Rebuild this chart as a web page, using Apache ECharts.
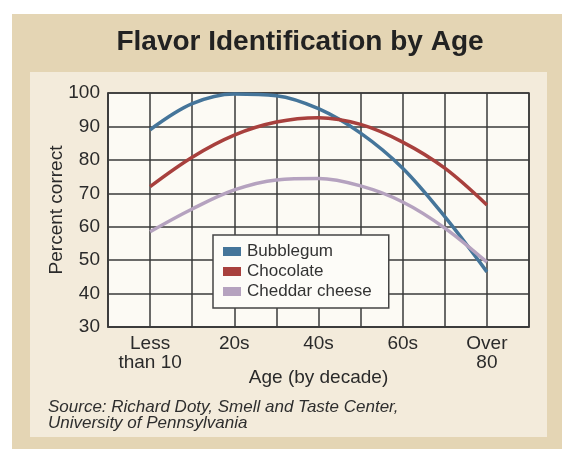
<!DOCTYPE html>
<html>
<head>
<meta charset="utf-8">
<script src="https://cdn.jsdelivr.net/npm/echarts@6/dist/echarts.min.js"></script>
<style>
html,body{margin:0;padding:0;background:#ffffff;}
#chart{width:562px;height:449px;}
</style>
</head>
<body>
<div id="chart"></div>
<script>
// Age decades (x positions 1..9 on the axis)
const ageGroups = ['Less than 10', '10s', '20s', '30s', '40s', '50s', '60s', '70s', 'Over 80'];
// Tick labels for axis positions 0..10
const xTickLabels = ['', 'Less\nthan 10', '', '20s', '', '40s', '', '60s', '', 'Over\n80', ''];
const bubblegum = [89, 96.8, 99.7, 99.2, 95.3, 88, 77.5, 63, 46.5];
const chocolate = [72, 80.8, 87.4, 91.3, 92.6, 90.6, 85.3, 77.5, 66.5];
const cheddar = [58.5, 65.3, 71, 74, 74.4, 72.2, 67.4, 59.6, 49.4];
const seriesNames = ['Bubblegum', 'Chocolate', 'Cheddar cheese'];

const toPairs = arr => arr.map((v, i) => [i + 1, v]);

const chart = echarts.init(document.getElementById('chart'), null, {renderer: 'canvas'});
const textColor = '#2a2a2a';
const gridColor = '#3a3a3a';
const font = 'Liberation Sans, Arial, Helvetica, sans-serif';

const mkSeries = (name, data, color) => ({
  name: name,
  type: 'line',
  data: toPairs(data),
  smooth: 0.35,
  symbol: 'none',
  lineStyle: {color: color, width: 3.5},
  itemStyle: {color: color},
  z: 3
});

chart.setOption({
  animation: false,
  textStyle: {fontFamily: font},
  graphic: [
    {type: 'rect', z: -10, shape: {x: 12, y: 14, width: 550, height: 435}, style: {fill: '#e4d5b4'}},
    {type: 'rect', z: -9, shape: {x: 30, y: 72, width: 517, height: 365}, style: {fill: '#f3ebdb'}},
    {type: 'text', z: 10, x: 300, y: 42, style: {
      text: 'Flavor Identification by Age', fill: '#222', font: 'bold 28px ' + font,
      textAlign: 'center', textVerticalAlign: 'middle'}},
    {type: 'text', z: 10, x: 48, y: 399, style: {
      text: 'Source: Richard Doty, Smell and Taste Center,\nUniversity of Pennsylvania',
      fill: '#2e2e2e', font: 'italic 17px ' + font, lineHeight: 16,
      textAlign: 'left', textVerticalAlign: 'top'}}
  ],
  grid: {
    left: 108, right: 33, top: 93, bottom: 122,
    show: true, backgroundColor: '#fcfaf4', borderColor: gridColor, borderWidth: 1.5
  },
  legend: {
    orient: 'vertical',
    left: 213, top: 235,
    data: seriesNames,
    icon: 'rect',
    itemWidth: 18, itemHeight: 9, itemGap: 3,
    padding: [8, 17, 8, 10],
    backgroundColor: '#fdfcf8',
    borderColor: '#444', borderWidth: 1.5,
    textStyle: {color: '#333', fontSize: 17, lineHeight: 17, fontFamily: font, padding: [0, 0, 0, 1]},
    z: 5
  },
  xAxis: {
    type: 'value', min: 0, max: 10, interval: 1,
    name: 'Age (by decade)', nameLocation: 'middle', nameGap: 41,
    nameMoveOverlap: false,
    nameTextStyle: {color: textColor, fontSize: 19, fontFamily: font},
    axisLine: {show: true, lineStyle: {color: gridColor, width: 1.5}},
    axisTick: {show: false},
    axisLabel: {
      color: textColor, fontSize: 19, lineHeight: 19, margin: 7, fontFamily: font,
      formatter: v => xTickLabels[Math.round(v)] || '',
      showMinLabel: true, showMaxLabel: true
    },
    splitLine: {show: true, lineStyle: {color: gridColor, width: 1.5}}
  },
  yAxis: {
    type: 'value', min: 30, max: 100, interval: 10,
    name: 'Percent correct', nameLocation: 'middle', nameGap: 42,
    nameMoveOverlap: false,
    nameTextStyle: {color: textColor, fontSize: 19, fontFamily: font},
    axisLine: {show: true, lineStyle: {color: gridColor, width: 1.5}},
    axisTick: {show: false},
    axisLabel: {color: textColor, fontSize: 19, margin: 8, fontFamily: font},
    splitLine: {show: true, lineStyle: {color: gridColor, width: 1.5}}
  },
  series: [
    mkSeries(seriesNames[0], bubblegum, '#45759a'),
    mkSeries(seriesNames[1], chocolate, '#a8403d'),
    mkSeries(seriesNames[2], cheddar, '#b5a2bf')
  ]
});
</script>
</body>
</html>
